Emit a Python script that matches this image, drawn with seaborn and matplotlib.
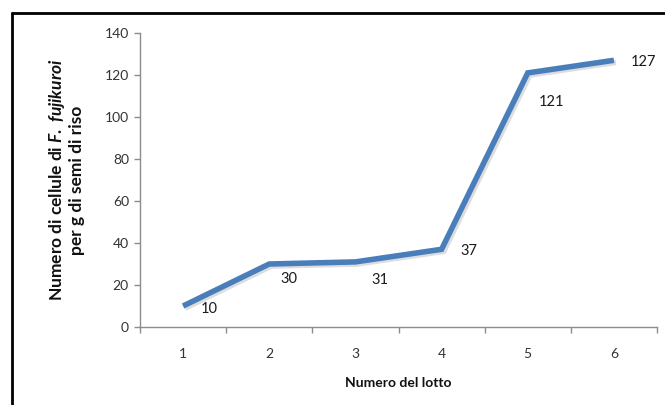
import matplotlib
matplotlib.use("Agg")
import matplotlib.pyplot as plt
import matplotlib.patheffects as pe
from matplotlib.lines import Line2D
import seaborn as sns
import pandas as pd

# Batch numbers and F. fujikuroi cell counts per gram of rice seed
lotti = [1, 2, 3, 4, 5, 6]
cellule = [10, 30, 31, 37, 121, 127]
y_ticks = [0, 20, 40, 60, 80, 100, 120, 140]

# Offsets (points) of each value label from its marker
label_offsets = [(19, -2), (14, -11), (18, -13), (20, -1), (17, -21), (21, -1)]

sns.set_theme(style="white")
plt.rcParams["font.family"] = ["Lato", "DejaVu Sans"]
plt.rcParams["mathtext.fontset"] = "custom"
plt.rcParams["mathtext.it"] = "Lato:italic:bold"
plt.rcParams["mathtext.rm"] = "Lato:bold"

df = pd.DataFrame({"lotto": lotti, "cellule": cellule})

fig = plt.figure(figsize=(6.65, 4.05), dpi=100)
ax = fig.add_axes([140 / 665, 1 - 327 / 405, 517 / 665, 294 / 405])

line_color = "#4a7ebb"
sns.lineplot(data=df, x="lotto", y="cellule", ax=ax, color=line_color,
             linewidth=4.0, solid_capstyle="butt", solid_joinstyle="miter")
for ln in ax.get_lines():
    ln.set_path_effects([
        pe.SimpleLineShadow(offset=(1.5, -1.5), shadow_color="#a0a0a0", alpha=0.35, rho=1),
        pe.Normal(),
    ])

for x, y, (dx, dy) in zip(lotti, cellule, label_offsets):
    ax.annotate(f"{y}", (x, y), xytext=(dx, dy), textcoords="offset points",
                ha="center", va="center", fontsize=10.5, color="#1a1a1a")

ax.set_xlim(0.5, 6.5)
ax.set_ylim(0, 140)
ax.set_yticks(y_ticks)
ax.set_xticks(lotti)
ax.set_xticklabels([str(v) for v in lotti])
ax.set_xticks([v + 0.5 for v in [0] + lotti], minor=True)

axis_color = "#8c8c8c"
for side in ["top", "right"]:
    ax.spines[side].set_visible(False)
for side in ["left", "bottom"]:
    ax.spines[side].set_color(axis_color)
    ax.spines[side].set_linewidth(1.0)

ax.tick_params(axis="y", which="major", left=True, length=4, width=1,
               color=axis_color, labelsize=10, labelcolor="#333333", pad=4)
ax.tick_params(axis="x", which="major", bottom=False, labelsize=10,
               labelcolor="#333333", pad=9)
ax.tick_params(axis="x", which="minor", bottom=True, length=4, width=1,
               color=axis_color)

ax.set_xlabel("Numero del lotto", fontsize=10, fontweight="bold",
              color="#111111", labelpad=12)
ax.set_ylabel("Numero di cellule di $\\it{F.\\ fujikuroi}$\nper g di semi di riso",
              fontsize=12.5, fontweight="bold", color="#111111",
              labelpad=14, linespacing=1.15)

# Frame around the chart area (left and top edges visible)
fig.add_artist(Line2D([12 / 665, 12 / 665], [0, 1 - 13 / 405],
                      transform=fig.transFigure, color="black", linewidth=2))
fig.add_artist(Line2D([12 / 665, 1.0], [1 - 13 / 405, 1 - 13 / 405],
                      transform=fig.transFigure, color="black", linewidth=2))

fig.savefig("out.png", dpi=100, facecolor="white")
